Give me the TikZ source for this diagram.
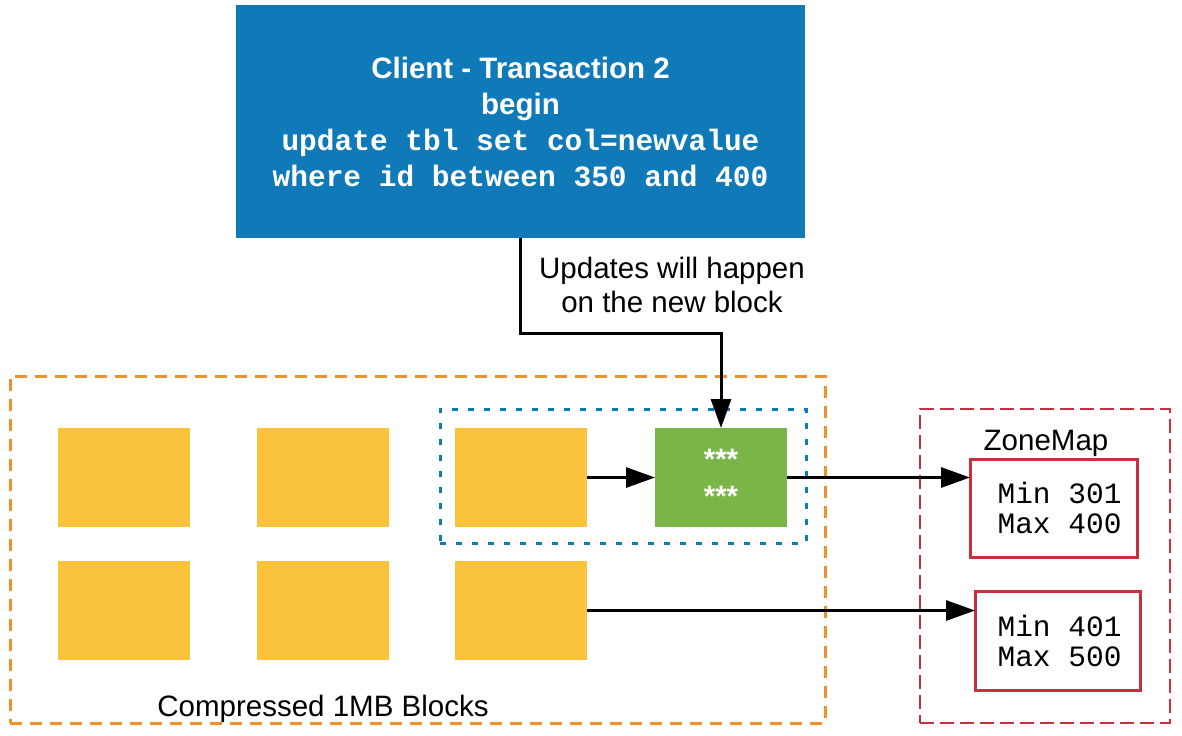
\documentclass[tikz,border=0pt]{standalone}
\usepackage{fontspec}
\setmainfont{Liberation Sans}
\setmonofont{Liberation Mono}
\usepackage{tikz}
\usetikzlibrary{arrows.meta,positioning}
\definecolor{lucBlue}{HTML}{107AB9}
\definecolor{lucYellow}{HTML}{FBC33B}
\definecolor{lucGreen}{HTML}{7AB547}
\definecolor{lucOrange}{HTML}{EE902C}
\definecolor{lucRed}{HTML}{C9303E}

\begin{document}
\begin{tikzpicture}[x=0.5pt, y=-0.5pt, font=\fontsize{14.75}{18}\selectfont,
  blk/.style={fill=lucYellow, minimum width=66pt, minimum height=49.5pt, inner sep=0pt, outer sep=0pt},
  zmbox/.style={draw=lucRed, line width=1.5pt, fill=white, inner sep=0pt, outer sep=0pt, align=center,
    font=\ttfamily\fontsize{14.75}{15}\selectfont},
  grp/.style={inner sep=0pt, outer sep=0pt},
  arr/.style={-{Triangle[length=14.5pt,width=10pt]}, line width=1.5pt}]
\useasboundingbox (0,0) rectangle (1182,735);
% groups
\node[grp, draw=lucOrange, line width=1.5pt, dash pattern=on 6pt off 4pt,
  minimum width=407.5pt, minimum height=173.5pt] (cmpgrp) at (417.5,549.5) {};
\node[grp, draw=lucBlue, line width=1.5pt, dash pattern=on 3pt off 5pt,
  minimum width=183pt, minimum height=67pt] (newgrp) at (623,476) {};
\node[grp, draw=lucRed, line width=0.75pt, dash pattern=on 7pt off 3pt,
  minimum width=125pt, minimum height=157pt] (zmgrp) at (1045,566) {};
% client box
\node[fill=lucBlue, text=white, inner sep=0pt, outer sep=0pt, align=center,
  minimum width=284.5pt, minimum height=116.5pt] (client) at (520.5,121.5)
  {\bfseries Client - Transaction 2\\ \bfseries begin\\
   \ttfamily\bfseries update tbl set col=newvalue\\
   \ttfamily\bfseries where id between 350 and 400};
% blocks
\node[blk] (blk1) at (124,477.5) {};
\node[blk] (blk2) at (323,477.5) {};
\node[blk] (blk3) at (521,477.5) {};
\node[blk] (blk4) at (124,610.5) {};
\node[blk] (blk5) at (323,610.5) {};
\node[blk] (blk6) at (521,610.5) {};
\node[blk, fill=lucGreen, text=white, align=center, font=\bfseries\fontsize{14.75}{18.5}\selectfont]
  (newblk) at (721,477.5) {***\\***};
% zonemap
\node (zmlbl) at (1046,443) {ZoneMap};
\node[zmbox, minimum width=83.5pt, minimum height=49pt] (zmA) at (1053.5,508)
  {\hspace*{6pt}Min 301\\\hspace*{6pt}Max 400};
\node[zmbox, minimum width=82.5pt, minimum height=49.5pt] (zmB) at (1057.5,640.5)
  {\hspace*{2pt}Min 401\\\hspace*{2pt}Max 500};
% labels
\node[align=center, font=\fontsize{14.75}{17}\selectfont] (updlbl) at (672,285)
  {Updates will happen\\on the new block};
\node (cmplbl) at (323,709) {Compressed 1MB Blocks};
% arrows
\draw[arr] (client.south) -- ++(0,95) -| (newblk.north);
\draw[arr] (blk3.east) -- (newblk.west);
\draw[arr] (newblk.east) -- (newblk.east -| zmA.west);
\draw[arr] (blk6.east) -- (blk6.east -| zmB.west);
\end{tikzpicture}
\end{document}
